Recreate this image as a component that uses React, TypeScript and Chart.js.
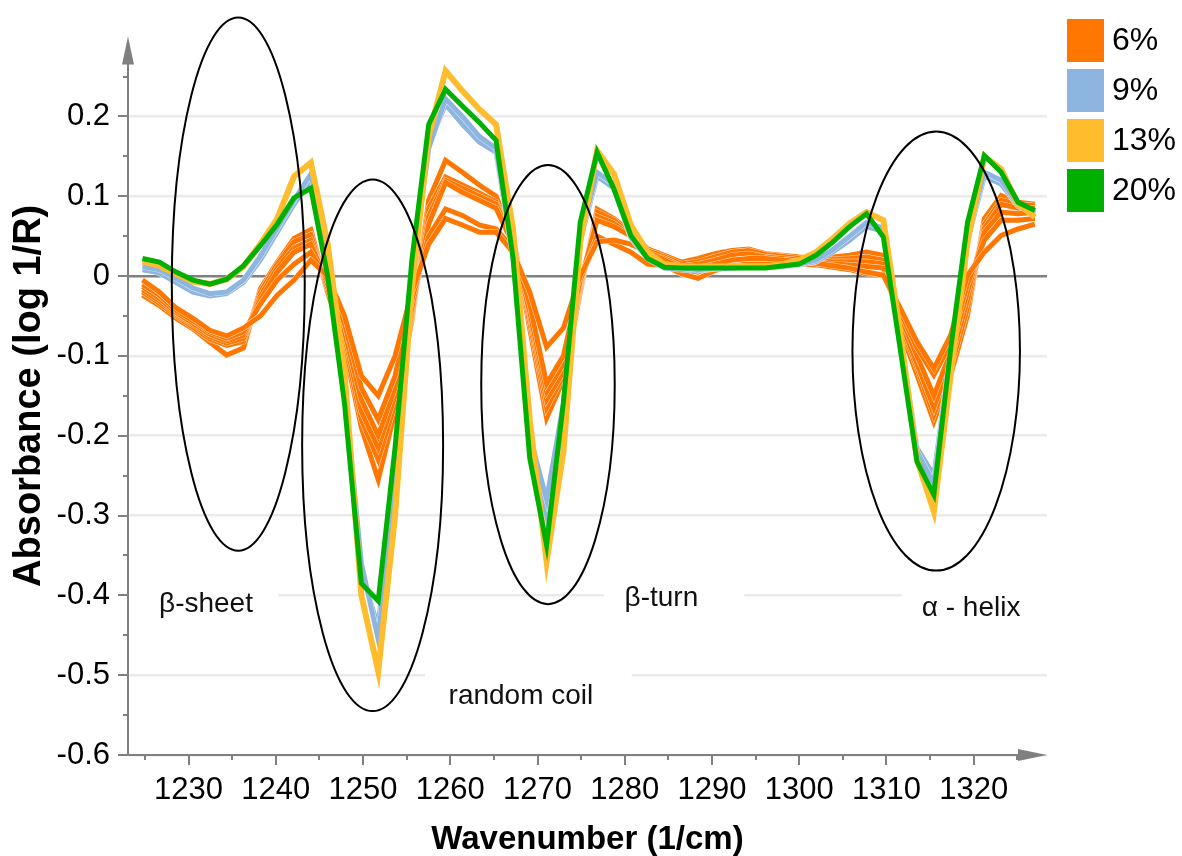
import React, { useEffect, useRef } from "react";
import { Chart, registerables } from "chart.js";

Chart.register(...registerables);

const FONT = "'Liberation Sans', Arial, Helvetica, sans-serif";

// Wavenumber sampling (1/cm)
const wavenumbers = [
  1224.72, 1226.65, 1228.58, 1230.51, 1232.44, 1234.37, 1236.3, 1238.23, 1240.16, 1242.09,
  1244.02, 1245.95, 1247.88, 1249.81, 1251.74, 1253.67, 1255.6, 1257.53, 1259.46, 1261.39,
  1263.32, 1265.25, 1267.18, 1269.11, 1271.04, 1272.97, 1274.9, 1276.83, 1278.76, 1280.69,
  1282.62, 1284.55, 1286.48, 1288.41, 1290.34, 1292.27, 1294.2, 1296.13, 1298.06, 1299.99,
  1301.92, 1303.85, 1305.78, 1307.71, 1309.64, 1311.57, 1313.5, 1315.43, 1317.36, 1319.29,
  1321.22, 1323.15, 1325.08, 1327.01,
];

// 6% spectra (several replicates)
const pct6_a = [
  -0.005, -0.02, -0.04, -0.053, -0.068, -0.075, -0.065, -0.05, -0.024, -0.005,
  0.02, 0.0, -0.05, -0.125, -0.15, -0.1, -0.02, 0.04, 0.072, 0.064,
  0.055, 0.055, 0.03, -0.02, -0.089, -0.065, 0.0, 0.043, 0.045, 0.04,
  0.03, 0.02, 0.01, 0.01, 0.015, 0.02, 0.022, 0.022, 0.02, 0.018,
  0.016, 0.013, 0.01, 0.005, 0.001, -0.04, -0.0825, -0.116, -0.074, 0.001,
  0.03, 0.051, 0.059, 0.065,
];
const pct6_b = [
  -0.01, -0.024, -0.043, -0.056, -0.07, -0.078, -0.07, -0.035, -0.005, 0.015,
  0.03, -0.005, -0.06, -0.14, -0.18, -0.125, -0.03, 0.05, 0.084, 0.076,
  0.064, 0.059, 0.035, -0.035, -0.135, -0.1, -0.005, 0.05, 0.04, 0.03,
  0.015, 0.013, 0.003, -0.003, 0.007, 0.013, 0.015, 0.015, 0.015, 0.015,
  0.014, 0.011, 0.008, 0.003, 0.002, -0.045, -0.09, -0.124, -0.085, -0.01,
  0.045, 0.07, 0.07, 0.072,
];
const pct6_c = [
  -0.013, -0.028, -0.046, -0.059, -0.073, -0.081, -0.074, -0.03, 0.005, 0.03,
  0.04, -0.01, -0.07, -0.155, -0.2, -0.14, -0.04, 0.065, 0.117, 0.105,
  0.095, 0.085, 0.04, -0.045, -0.145, -0.11, -0.008, 0.07, 0.062, 0.05,
  0.025, 0.018, 0.008, 0.005, 0.012, 0.02, 0.022, 0.02, 0.02, 0.018,
  0.017, 0.015, 0.014, 0.012, 0.01, -0.05, -0.1, -0.15, -0.095, -0.02,
  0.055, 0.08, 0.078, 0.08,
];
const pct6_d = [
  -0.017, -0.031, -0.048, -0.061, -0.076, -0.084, -0.078, -0.025, 0.01, 0.035,
  0.045, -0.015, -0.075, -0.17, -0.215, -0.15, -0.045, 0.075, 0.12, 0.11,
  0.1, 0.09, 0.045, -0.05, -0.155, -0.12, -0.012, 0.075, 0.066, 0.05,
  0.028, 0.022, 0.012, 0.015, 0.02, 0.026, 0.028, 0.024, 0.022, 0.02,
  0.019, 0.018, 0.018, 0.018, 0.015, -0.055, -0.11, -0.165, -0.105, -0.03,
  0.06, 0.09, 0.085, 0.085,
];
const pct6_e = [
  -0.02, -0.034, -0.05, -0.064, -0.079, -0.087, -0.082, -0.02, 0.015, 0.043,
  0.052, -0.02, -0.085, -0.18, -0.23, -0.16, -0.05, 0.085, 0.124, 0.114,
  0.104, 0.093, 0.048, -0.058, -0.165, -0.125, -0.015, 0.08, 0.07, 0.052,
  0.032, 0.024, 0.015, 0.018, 0.024, 0.03, 0.032, 0.027, 0.025, 0.022,
  0.021, 0.021, 0.022, 0.024, 0.02, -0.06, -0.115, -0.174, -0.115, -0.04,
  0.065, 0.095, 0.09, 0.088,
];
const pct6_f = [
  -0.024, -0.037, -0.053, -0.066, -0.083, -0.099, -0.09, -0.016, 0.017, 0.047,
  0.058, -0.02, -0.09, -0.19, -0.255, -0.17, -0.055, 0.095, 0.145, 0.13,
  0.114, 0.1, 0.05, -0.066, -0.178, -0.13, -0.02, 0.084, 0.072, 0.055,
  0.034, 0.026, 0.0175, 0.022, 0.028, 0.032, 0.034, 0.028, 0.026, 0.024,
  0.023, 0.024, 0.026, 0.03, 0.026, -0.066, -0.124, -0.1825, -0.124, -0.049,
  0.072, 0.101, 0.0925, 0.09,
];

// 9% spectra
const pct9_a = [
  0.012, 0.008, -0.003, -0.015, -0.022, -0.02, -0.005, 0.025, 0.06, 0.095,
  0.128, 0.03, -0.14, -0.36, -0.455, -0.25, 0.005, 0.16, 0.222, 0.2,
  0.175, 0.16, 0.03, -0.2, -0.28, -0.16, 0.05, 0.13, 0.115, 0.05,
  0.025, 0.013, 0.01, 0.008, 0.01, 0.012, 0.012, 0.012, 0.013, 0.015,
  0.02, 0.033, 0.05, 0.067, 0.06, -0.08, -0.22, -0.26, -0.1, 0.05,
  0.13, 0.12, 0.09, 0.08,
];
const pct9_b = [
  0.008, 0.004, -0.008, -0.02, -0.025, -0.022, -0.008, 0.02, 0.055, 0.09,
  0.12, 0.025, -0.15, -0.37, -0.44, -0.23, 0.0, 0.165, 0.215, 0.19,
  0.168, 0.155, 0.025, -0.21, -0.3, -0.18, 0.045, 0.125, 0.11, 0.048,
  0.022, 0.01, 0.008, 0.007, 0.009, 0.01, 0.011, 0.011, 0.012, 0.014,
  0.018, 0.03, 0.045, 0.062, 0.056, -0.075, -0.215, -0.25, -0.095, 0.045,
  0.125, 0.115, 0.088, 0.078,
];

// 13% spectrum
const pct13 = [
  0.018, 0.013, 0.003, -0.007, -0.01, -0.004, 0.012, 0.04, 0.072, 0.125,
  0.142, 0.04, -0.12, -0.4, -0.495, -0.3, -0.015, 0.175, 0.257, 0.232,
  0.209, 0.19, 0.06, -0.18, -0.3575, -0.22, 0.0425, 0.157, 0.128, 0.064,
  0.03, 0.015, 0.012, 0.012, 0.012, 0.012, 0.012, 0.012, 0.015, 0.02,
  0.03, 0.047, 0.066, 0.08, 0.07, -0.07, -0.23, -0.295, -0.124, 0.0425,
  0.15, 0.134, 0.09, 0.074,
];

// 20% spectrum
const pct20 = [
  0.022, 0.0175, 0.005, -0.005, -0.01, -0.004, 0.013, 0.038, 0.065, 0.098,
  0.11, 0.0, -0.16, -0.385, -0.407, -0.215, 0.02, 0.19, 0.234, 0.213,
  0.1925, 0.17, 0.024, -0.228, -0.337, -0.158, 0.0675, 0.155, 0.109, 0.051,
  0.022, 0.011, 0.01, 0.01, 0.01, 0.01, 0.01, 0.01, 0.0125, 0.015,
  0.026, 0.0425, 0.062, 0.078, 0.049, -0.091, -0.2325, -0.274, -0.091, 0.067,
  0.151, 0.13, 0.0925, 0.082,
];

const legendLabels = ["6%", "9%", "13%", "20%"];
const legendColors = ["#FF7600", "#8DB5E0", "#FFBC2C", "#00B000"];

const xTickValues = [1230, 1240, 1250, 1260, 1270, 1280, 1290, 1300, 1310, 1320];
const xTickLabels = ["1230", "1240", "1250", "1260", "1270", "1280", "1290", "1300", "1310", "1320"];
const yTickValues = [-0.6, -0.5, -0.4, -0.3, -0.2, -0.1, 0, 0.1, 0.2];
const yTickLabels = ["-0.6", "-0.5", "-0.4", "-0.3", "-0.2", "-0.1", "0", "0.1", "0.2"];

// Region annotations (data coordinates)
const regionNames = ["β-sheet", "random coil", "β-turn", "α - helix"];
const regionLabelX = [1232.0, 1268.1, 1284.2, 1319.7];
const regionLabelY = [-0.411, -0.526, -0.404, -0.416];
const regionBoxX0 = [1222.0, 1257.1, 1277.6, 1311.7];
const regionBoxX1 = [1240.3, 1280.8, 1293.7, 1328.4];
const regionBoxY0 = [-0.38, -0.4925, -0.375, -0.385];
const regionBoxY1 = [-0.44, -0.5575, -0.435, -0.445];
const ellipseCx = [1235.7, 1251.1, 1271.2, 1315.7];
const ellipseCy = [-0.01, -0.212, -0.136, -0.094];
const ellipseRx = [7.62, 8.08, 7.65, 9.6];
const ellipseRy = [0.334, 0.333, 0.275, 0.275];

function toPoints(values: number[]) {
  return values.map((v, i) => ({ x: wavenumbers[i], y: v }));
}

function ds(values: number[], color: string, width: number, order: number, halo: boolean) {
  return {
    data: toPoints(values),
    borderColor: color,
    backgroundColor: color,
    borderWidth: width,
    pointRadius: 0,
    tension: 0,
    fill: false,
    borderJoinStyle: "miter" as const,
    borderCapStyle: "butt" as const,
    order,
    halo,
  };
}

// very thin white outline under each replicate line, as in the original rendering
const haloPlugin = {
  id: "halo",
  beforeDatasetDraw(chart: any, args: any) {
    const d: any = chart.data.datasets[args.index];
    if (!d || !d.halo) return;
    const pts = args.meta.data;
    if (!pts || !pts.length) return;
    const ctx = chart.ctx;
    ctx.save();
    ctx.beginPath();
    pts.forEach((p: any, i: number) => (i === 0 ? ctx.moveTo(p.x, p.y) : ctx.lineTo(p.x, p.y)));
    ctx.strokeStyle = "rgba(255,255,255,0.85)";
    ctx.lineWidth = d.borderWidth + 0.8;
    ctx.lineJoin = "miter";
    ctx.stroke();
    ctx.restore();
  },
};

const decorPlugin = {
  id: "decor",
  beforeDatasetsDraw(chart: any) {
    const { ctx, scales } = chart;
    const xs = scales.x;
    const ys = scales.y;
    ctx.save();
    ctx.fillStyle = "#ffffff";
    for (let i = 0; i < regionNames.length; i++) {
      const x0 = xs.getPixelForValue(regionBoxX0[i]);
      const x1 = xs.getPixelForValue(regionBoxX1[i]);
      const y0 = ys.getPixelForValue(regionBoxY0[i]);
      const y1 = ys.getPixelForValue(regionBoxY1[i]);
      ctx.fillRect(x0, y0, x1 - x0, y1 - y0);
    }
    ctx.fillStyle = "#111111";
    ctx.font = `28px ${FONT}`;
    ctx.textAlign = "center";
    ctx.textBaseline = "middle";
    for (let i = 0; i < regionNames.length; i++) {
      ctx.fillText(
        regionNames[i],
        xs.getPixelForValue(regionLabelX[i]),
        ys.getPixelForValue(regionLabelY[i])
      );
    }
    ctx.restore();
  },
  afterDatasetsDraw(chart: any) {
    const { ctx, scales, chartArea } = chart;
    const xs = scales.x;
    const ys = scales.y;
    ctx.save();
    // ellipses
    ctx.strokeStyle = "#000000";
    ctx.lineWidth = 2;
    for (let i = 0; i < ellipseCx.length; i++) {
      const cx = xs.getPixelForValue(ellipseCx[i]);
      const cy = ys.getPixelForValue(ellipseCy[i]);
      const rx = Math.abs(xs.getPixelForValue(ellipseCx[i] + ellipseRx[i]) - cx);
      const ry = Math.abs(ys.getPixelForValue(ellipseCy[i] + ellipseRy[i]) - cy);
      ctx.beginPath();
      ctx.ellipse(cx, cy, rx, ry, 0, 0, Math.PI * 2);
      ctx.stroke();
    }
    // axes
    const gray = "#808080";
    const left = chartArea.left;
    const bottom = chartArea.bottom;
    const top = chartArea.top;
    const right = chartArea.right;
    ctx.strokeStyle = gray;
    ctx.fillStyle = gray;
    ctx.lineWidth = 2;
    ctx.beginPath();
    ctx.moveTo(left, bottom + 1);
    ctx.lineTo(left, top + 20);
    ctx.stroke();
    ctx.beginPath();
    ctx.moveTo(left - 1, bottom);
    ctx.lineTo(right - 20, bottom);
    ctx.stroke();
    // arrow heads
    ctx.beginPath();
    ctx.moveTo(left, top);
    ctx.lineTo(left - 6, top + 28);
    ctx.lineTo(left + 6, top + 28);
    ctx.closePath();
    ctx.fill();
    ctx.beginPath();
    ctx.moveTo(right, bottom);
    ctx.lineTo(right - 29, bottom - 6);
    ctx.lineTo(right - 29, bottom + 6);
    ctx.closePath();
    ctx.fill();
    // tick marks
    ctx.lineWidth = 2;
    for (let k = 0; k <= 17; k++) {
      const v = -0.6 + k * 0.05;
      const y = Math.round(ys.getPixelForValue(v));
      const len = k % 2 === 0 ? 10 : 5;
      ctx.beginPath();
      ctx.moveTo(left - len, y);
      ctx.lineTo(left, y);
      ctx.stroke();
    }
    for (let k = 0; k <= 20; k++) {
      const v = 1225 + k * 5;
      const x = Math.round(xs.getPixelForValue(v));
      const len = k % 2 === 1 ? 10 : 5;
      ctx.beginPath();
      ctx.moveTo(x, bottom);
      ctx.lineTo(x, bottom + len);
      ctx.stroke();
    }
    // legend
    ctx.font = `32px ${FONT}`;
    ctx.textAlign = "left";
    ctx.textBaseline = "middle";
    for (let i = 0; i < legendLabels.length; i++) {
      const by = 19 + i * 50;
      ctx.fillStyle = legendColors[i];
      ctx.fillRect(1067, by, 37, 43);
      ctx.fillStyle = "#000000";
      ctx.fillText(legendLabels[i], 1112, by + 22);
    }
    ctx.restore();
  },
};

export default function App() {
  const canvasRef = useRef<HTMLCanvasElement | null>(null);

  useEffect(() => {
    const canvas = canvasRef.current;
    if (!canvas) return;
    const datasets = [
      ds(pct20, legendColors[3], 5, 0, false),
      ds(pct13, legendColors[2], 6, 1, false),
      ds(pct9_a, legendColors[1], 5, 2, true),
      ds(pct9_b, legendColors[1], 5, 3, true),
      ds(pct6_a, legendColors[0], 5, 4, true),
      ds(pct6_b, legendColors[0], 5, 5, true),
      ds(pct6_c, legendColors[0], 5, 6, true),
      ds(pct6_d, legendColors[0], 5, 7, true),
      ds(pct6_e, legendColors[0], 5, 8, true),
      ds(pct6_f, legendColors[0], 5, 9, true),
    ];
    const chart = new Chart(canvas, {
      type: "line",
      data: { datasets: datasets as any },
      options: {
        animation: false,
        responsive: false,
        devicePixelRatio: 1,
        layout: { padding: { left: 0, right: 135, top: 35, bottom: 0 } },
        plugins: { legend: { display: false }, tooltip: { enabled: false } },
        scales: {
          x: {
            type: "linear",
            min: 1223.06,
            max: 1328.4,
            afterBuildTicks: (s: any) => {
              s.ticks = xTickValues.map((v) => ({ value: v }));
            },
            afterFit: (s: any) => {
              s.height = 101;
            },
            ticks: {
              autoSkip: false,
              maxRotation: 0,
              padding: 17,
              color: "#000000",
              font: { family: FONT, size: 31 },
              callback: (_v: any, i: number) => xTickLabels[i],
            },
            grid: { display: false, drawTicks: false },
            border: { display: false },
            title: {
              display: true,
              text: "Wavenumber (1/cm)",
              color: "#000000",
              font: { family: FONT, size: 33, weight: "bold", lineHeight: 1 },
              padding: { top: 0, bottom: 0 },
            },
          },
          y: {
            type: "linear",
            min: -0.6,
            max: 0.3,
            afterBuildTicks: (s: any) => {
              s.ticks = yTickValues.map((v) => ({ value: v }));
            },
            afterFit: (s: any) => {
              s.width = 128;
            },
            ticks: {
              padding: 18,
              color: "#000000",
              font: { family: FONT, size: 31 },
              callback: (_v: any, i: number) => yTickLabels[i],
            },
            grid: {
              drawTicks: false,
              lineWidth: 2.5,
              color: (c: any) => (c.tick && c.tick.value === 0 ? "#808080" : "#EAEAEA"),
            },
            border: { display: false },
            title: {
              display: true,
              text: "Absorbance (log 1/R)",
              color: "#000000",
              font: { family: FONT, size: 38, weight: "bold", lineHeight: 1 },
              padding: { top: 11, bottom: 0 },
            },
          },
        },
      } as any,
      plugins: [haloPlugin, decorPlugin],
    });
    return () => chart.destroy();
  }, []);

  return (
    <div style={{ position: "absolute", left: 0, top: 0, width: 1182, height: 856, background: "#fff" }}>
      <canvas ref={canvasRef} width={1182} height={856} style={{ display: "block" }} />
    </div>
  );
}
